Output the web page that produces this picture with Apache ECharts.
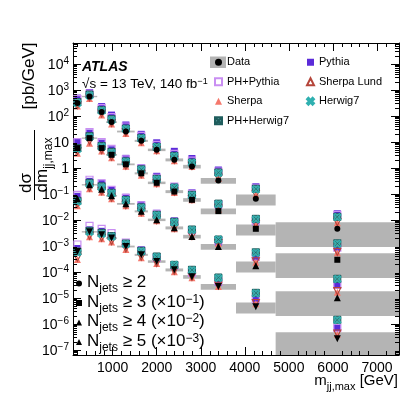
<!DOCTYPE html>
<html>
<head>
<meta charset="utf-8">
<script src="https://cdn.jsdelivr.net/npm/echarts@6/dist/echarts.min.js"></script>
<style>
html, body { margin: 0; padding: 0; background: #fff; }
#chart { width: 407px; height: 395px; }
</style>
</head>
<body>
<div id="chart"></div>
<script>
const FONT = '"Liberation Sans", Arial, sans-serif'

// m_jj,max bin edges [GeV]
const binEdges = [100, 300, 650, 850, 1100, 1500, 1800, 2200, 2600, 3000, 3800, 4700, 7500]

// measured d(sigma)/dm_jj,max [pb/GeV], before the scale factors used for plotting
const dataNj2 = [308, 552, 139, 57.3, 24.9, 10.9, 4.92, 2.03, 1.12, 0.325, 0.0646, 0.00451]
const dataNj3 = [57.3, 138.7, 57.3, 31.6, 13.6, 6.14, 2.65, 1.22, 0.587, 0.216, 0.0451, 0.0029]
const dataNj4 = [6.43, 22.2, 14.9, 8.38, 4.12, 2.12, 1.0, 0.492, 0.228, 0.094, 0.017, 0.001]
const dataNj5 = [0.604, 3.45, 2.65, 1.98, 0.94, 0.451, 0.249, 0.119, 0.0643, 0.0272, 0.00451, 0.000265]
const groupScale = [1, 0.1, 0.01, 0.001]

// relative size of the grey data uncertainty band
const dataRelUnc = [0.06, 0.06, 0.07, 0.07, 0.08, 0.09, 0.11, 0.13, 0.16, 0.25, 0.45, 0.8]

// predictions as ratio to data, one row per N_jets selection
const phPythiaRatio = [
    [1.42, 1.30, 1.42, 1.56, 1.56, 1.56, 1.56, 1.70, 1.70, 2.22, 2.65, 3.45],
    [1.70, 1.70, 1.70, 1.70, 1.56, 1.56, 1.56, 1.56, 1.70, 1.86, 2.03, 2.90],
    [1.42, 1.56, 1.70, 1.70, 1.70, 1.70, 1.70, 1.70, 1.70, 1.70, 2.22, 3.16],
    [1.86, 1.70, 1.70, 1.56, 1.42, 1.42, 1.42, 1.42, 1.42, 1.56, 2.03, 2.65]
]
const sherpaRatio = [
    [0.77, 0.84, 0.77, 0.84, 0.84, 0.84, 0.92, 0.92, 1.00, 1.19, 1.42, 1.70],
    [0.64, 0.64, 0.77, 0.77, 0.84, 0.84, 0.92, 0.92, 1.00, 1.19, 1.42, 1.86],
    [0.54, 0.70, 0.77, 0.77, 0.84, 0.84, 0.92, 0.92, 1.00, 1.30, 1.36, 1.63],
    [0.49, 0.64, 0.70, 0.70, 0.77, 0.77, 0.84, 0.84, 0.92, 1.00, 1.30, 1.49]
]
const phHerwigRatio = [
    [1.09, 1.19, 1.19, 1.30, 1.30, 1.30, 1.30, 1.42, 1.42, 2.03, 2.42, 2.90],
    [1.00, 1.19, 1.19, 1.30, 1.30, 1.42, 1.42, 1.42, 1.56, 1.94, 2.42, 4.30],
    [0.84, 1.19, 1.30, 1.30, 1.42, 1.42, 1.56, 1.70, 1.86, 1.86, 3.30, 5.40],
    [1.00, 1.09, 1.19, 1.19, 1.30, 1.42, 1.56, 1.56, 1.86, 2.22, 3.45, 5.40]
]
const pythiaRatio = [
    [1.56, 1.42, 1.63, 1.86, 1.78, 1.78, 1.86, 2.12, 2.03, 2.53, 2.90, 3.80],
    [1.78, 1.56, 1.56, 1.56, 1.70, 1.63, 1.78, 1.56, 1.86, 1.70, 1.86, 3.00],
    [1.25, 1.36, 1.70, 1.70, 1.78, 1.78, 1.78, 1.86, 1.86, 1.49, 2.12, 3.00],
    [1.30, 1.19, 1.36, 1.19, 1.30, 1.56, 1.36, 1.36, 1.42, 1.42, 1.86, 2.53]
]
const sherpaLundRatio = [
    [0.84, 0.92, 0.88, 0.92, 0.92, 0.96, 0.96, 1.00, 1.05, 1.25, 1.50, 1.80],
    [0.77, 0.77, 0.84, 0.84, 0.88, 0.92, 0.96, 1.00, 1.05, 1.25, 1.50, 2.00],
    [0.64, 0.77, 0.84, 0.84, 0.88, 0.92, 0.96, 1.00, 1.05, 1.36, 1.50, 1.80],
    [0.58, 0.70, 0.77, 0.77, 0.84, 0.84, 0.88, 0.92, 1.00, 1.09, 1.40, 1.60]
]
const herwigRatio = [
    [1.00, 1.09, 1.13, 1.19, 1.25, 1.25, 1.30, 1.36, 1.42, 1.94, 2.30, 2.80],
    [0.92, 1.09, 1.13, 1.19, 1.25, 1.36, 1.36, 1.42, 1.49, 1.86, 2.30, 4.10],
    [0.77, 1.09, 1.19, 1.25, 1.36, 1.36, 1.49, 1.63, 1.78, 1.86, 3.16, 5.20],
    [0.92, 1.00, 1.09, 1.13, 1.25, 1.36, 1.49, 1.56, 1.78, 2.12, 3.30, 5.20]
]

// axis ranges (y is log10 of the cross-section)
const xMin = 100, xMax = 7500
const yMin = -7.2, yMax = 4.8

const groups = [dataNj2, dataNj3, dataNj4, dataNj5]
const groupNames = ['Nj2', 'Nj3', 'Nj4', 'Nj5']
const groupSymbols = [['circle', 0, 6], ['rect', 0, 6], ['triangle', 0, 7], ['triangle', 180, 7]]
const centers = binEdges.slice(0, -1).map((e, i) => (e + binEdges[i + 1]) / 2)

// predictions: name, ratios, symbol, rotation, style
const mcList = [
    ['Pythia', pythiaRatio, 'rect', 0, {color: '#5b2bd9'}],
    ['PH+Pythia', phPythiaRatio, 'rect', 0, {color: 'rgba(255,255,255,0)', borderColor: '#c98ef2', borderWidth: 1.2}],
    ['Sherpa', sherpaRatio, 'triangle', 0, {color: '#f5786c'}],
    ['Sherpa Lund', sherpaLundRatio, 'triangle', 180, {color: 'rgba(255,255,255,0)', borderColor: '#b5453a', borderWidth: 1.2}],
    ['PH+Herwig7', phHerwigRatio, 'path://M0,0L10,0L10,10L0,10Z M0,0L10,10 M10,0L0,10', 0, {color: '#5a9e9e', borderColor: '#1f5d5d', borderWidth: 1}],
    ['Herwig7', herwigRatio, 'path://M2,0L5,3L8,0L10,2L7,5L10,8L8,10L5,7L2,10L0,8L3,5L0,2Z', 0, {color: 'rgba(255,255,255,0)', borderColor: '#2fb0b0', borderWidth: 1.2}]
]

const series = []

// grey data uncertainty boxes
const boxData = []
groups.forEach((vals, g) => {
    vals.forEach((v, i) => {
        const s = v * groupScale[g]
        const r = dataRelUnc[i]
        boxData.push([binEdges[i], binEdges[i + 1], Math.log10(s * (1 - r)), Math.log10(s * (1 + r))])
    })
})
series.push({
    name: 'Data',
    type: 'custom',
    z: 1,
    silent: true,
    encode: {x: [0, 1], y: [2, 3]},
    data: boxData,
    renderItem: function (params, api) {
        const p0 = api.coord([api.value(0), api.value(3)])
        const p1 = api.coord([api.value(1), api.value(2)])
        const cs = params.coordSys
        const shape = echarts.graphic.clipRectByRect(
            {x: p0[0], y: p0[1], width: p1[0] - p0[0], height: p1[1] - p0[1]},
            {x: cs.x, y: cs.y, width: cs.width, height: cs.height}
        )
        return shape && {type: 'rect', shape: shape, style: {fill: '#b4b4b4'}}
    }
})

mcList.forEach(mc => {
    const pts = []
    groups.forEach((vals, g) => {
        vals.forEach((v, i) => {
            pts.push([centers[i], Math.log10(v * groupScale[g] * mc[1][g][i])])
        })
    })
    series.push({
        name: mc[0],
        type: 'scatter',
        z: 2,
        symbol: mc[2],
        symbolRotate: mc[3],
        symbolSize: 7,
        itemStyle: Object.assign({opacity: 1}, mc[4]),
        data: pts
    })
})

groups.forEach((vals, g) => {
    series.push({
        name: groupNames[g],
        type: 'scatter',
        z: 3,
        symbol: groupSymbols[g][0],
        symbolRotate: groupSymbols[g][1],
        symbolSize: groupSymbols[g][2],
        itemStyle: {color: '#000', opacity: 1},
        data: centers.map((c, i) => [c, Math.log10(vals[i] * groupScale[g])])
    })
})

// minor ticks on all four sides (log minor ticks on y)
const yMinor = []
for (let d = -8; d <= 4; d++) {
    for (let k = 2; k <= 9; k++) {
        const v = d + Math.log10(k)
        if (v > yMin && v < yMax) yMinor.push([xMin, v])
    }
}
const xMinor = []
for (let v = 200; v < xMax; v += 200) {
    if (v % 1000 !== 0) xMinor.push([v, yMin])
}
function tickLine (x1, y1, x2, y2) {
    return {type: 'line', shape: {x1: x1, y1: y1, x2: x2, y2: y2}, style: {stroke: '#000', lineWidth: 1}}
}
series.push({
    type: 'custom',
    z: 5,
    silent: true,
    encode: {x: 0, y: 1},
    data: yMinor,
    renderItem: function (params, api) {
        const cs = params.coordSys
        const y = Math.round(api.coord([xMin, api.value(1)])[1]) + 0.5
        return {type: 'group', children: [
            tickLine(cs.x, y, cs.x + 4, y),
            tickLine(cs.x + cs.width, y, cs.x + cs.width - 4, y)
        ]}
    }
})
series.push({
    type: 'custom',
    z: 5,
    silent: true,
    encode: {x: 0, y: 1},
    data: xMinor,
    renderItem: function (params, api) {
        const cs = params.coordSys
        const x = Math.round(api.coord([api.value(0), yMin])[0]) + 0.5
        return {type: 'group', children: [
            tickLine(x, cs.y + cs.height, x, cs.y + cs.height - 4),
            tickLine(x, cs.y, x, cs.y + 4)
        ]}
    }
})

const axisCommon = {
    type: 'value',
    splitLine: {show: false},
    axisLine: {show: true, onZero: false, lineStyle: {color: '#000', width: 1}},
    axisTick: {show: true, inside: true, length: 8, lineStyle: {color: '#000'}}
}

const richBase = function (big, small) {
    return {
        n: {fontSize: big, lineHeight: big + 2, verticalAlign: 'top', fontFamily: FONT, color: '#000'},
        sub: {fontSize: small, lineHeight: small, padding: [Math.round(big * 0.55), 0, 0, 0], verticalAlign: 'top', fontFamily: FONT, color: '#000'},
        sup: {fontSize: small, lineHeight: small, verticalAlign: 'top', fontFamily: FONT, color: '#000'}
    }
}

const njLabels = {
    Nj2: '{n|N}{sub|jets}{n| \u2265 2}',
    Nj3: '{n|N}{sub|jets}{n| \u2265 3 (\u00d710}{sup|\u22121}{n|)}',
    Nj4: '{n|N}{sub|jets}{n| \u2265 4 (\u00d710}{sup|\u22122}{n|)}',
    Nj5: '{n|N}{sub|jets}{n| \u2265 5 (\u00d710}{sup|\u22123}{n|)}'
}

const chart = echarts.init(document.getElementById('chart'))
chart.setOption({
    backgroundColor: '#fff',
    animation: false,
    textStyle: {fontFamily: FONT},
    grid: {left: 73, right: 8, top: 43, bottom: 40},
    xAxis: [
        Object.assign({}, axisCommon, {
            min: xMin, max: xMax, splitNumber: 7, position: 'bottom',
            axisLabel: {
                color: '#000', fontSize: 14, margin: 6, fontFamily: FONT,
                formatter: v => (v % 1000 === 0 ? String(v) : '')
            }
        }),
        Object.assign({}, axisCommon, {
            min: xMin, max: xMax, splitNumber: 7, position: 'top',
            axisLabel: {show: false}
        })
    ],
    yAxis: [
        Object.assign({}, axisCommon, {
            min: yMin, max: yMax, splitNumber: 12, position: 'left',
            axisLabel: {
                color: '#000', margin: 4,
                formatter: function (v) {
                    if (Math.abs(v - Math.round(v)) > 1e-6) return ''
                    const e = Math.round(v)
                    if (e === 0) return '{b|1}'
                    if (e === 1) return '{b|10}'
                    return '{b|10}{s|' + (e < 0 ? '\u2212' + (-e) : e) + '}'
                },
                rich: {
                    b: {fontSize: 14, lineHeight: 16, verticalAlign: 'bottom', fontFamily: FONT, color: '#000'},
                    s: {fontSize: 10, lineHeight: 10, verticalAlign: 'top', fontFamily: FONT, color: '#000'}
                }
            }
        }),
        Object.assign({}, axisCommon, {
            min: yMin, max: yMax, splitNumber: 12, position: 'right',
            axisLabel: {show: false}
        })
    ],
    legend: [
        {
            orient: 'vertical', left: 214, top: 56, padding: 0, itemWidth: 7, itemHeight: 7, itemGap: 7, itemTextGap: 8,
            selectedMode: false,
            textStyle: {fontSize: 11, lineHeight: 12.5, color: '#000', fontFamily: FONT},
            data: [{name: 'Data', icon: 'circle', itemStyle: {color: '#000'}}, 'PH+Pythia', 'Sherpa', 'PH+Herwig7']
        },
        {
            orient: 'vertical', left: 306, top: 56, padding: 0, itemWidth: 7, itemHeight: 7, itemGap: 7, itemTextGap: 8,
            selectedMode: false,
            textStyle: {fontSize: 11, lineHeight: 12.5, color: '#000', fontFamily: FONT},
            data: ['Pythia', 'Sherpa Lund', 'Herwig7']
        },
        {
            orient: 'vertical', left: 76, top: 274, padding: 0, itemWidth: 6, itemHeight: 6, itemGap: -1.5, itemTextGap: 14,
            selectedMode: false,
            formatter: name => njLabels[name],
            textStyle: {color: '#000', fontFamily: FONT, rich: richBase(17, 12)},
            data: groupNames
        }
    ],
    graphic: [
        {type: 'rect', z: -1, shape: {x: 210, y: 56.5, width: 16, height: 11.5}, style: {fill: '#b4b4b4'}},
        {type: 'text', x: 82, y: 67, style: {text: 'ATLAS', font: 'italic bold 14px ' + FONT, fill: '#000', verticalAlign: 'middle'}},
        {type: 'text', x: 82, y: 77, style: {
            text: '{n|\u221As = 13 TeV, 140 fb}{sup|\u22121}', rich: richBase(13.5, 9)
        }},
        // y axis title
        {type: 'text', x: 29, y: 76, rotation: Math.PI / 2, style: {
            text: '[pb/GeV]', font: '17px ' + FONT, fill: '#000', align: 'center', verticalAlign: 'middle'
        }},
        {type: 'text', x: 26, y: 183, rotation: Math.PI / 2, style: {
            text: 'd\u03c3', font: '17px ' + FONT, fill: '#000', align: 'center', verticalAlign: 'middle'
        }},
        {type: 'line', shape: {x1: 34.5, y1: 130, x2: 34.5, y2: 200}, style: {stroke: '#000', lineWidth: 1}},
        {type: 'text', x: 34, y: 165, rotation: Math.PI / 2, style: {
            text: '{n|dm}{sub|jj,max}', rich: richBase(17, 12), align: 'center', verticalAlign: 'top'
        }},
        // x axis title
        {type: 'text', x: 398, y: 373, style: {
            text: '{n|m}{sub|jj,max}{n| [GeV]}', rich: richBase(15, 11), align: 'right', verticalAlign: 'top'
        }}
    ],
    series: series
})
</script>
</body>
</html>
